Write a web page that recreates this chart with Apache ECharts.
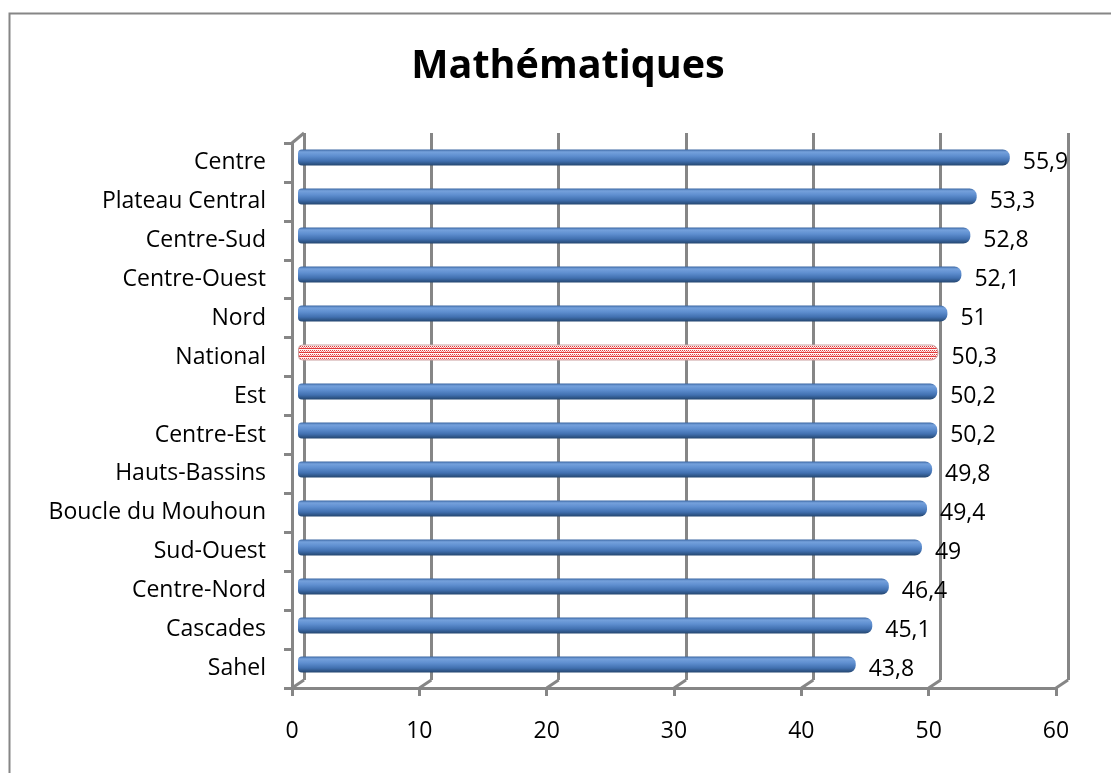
<!DOCTYPE html>
<html>
<head>
<meta charset="utf-8">
<script src="https://cdn.jsdelivr.net/npm/echarts@6/dist/echarts.min.js"></script>
<style>
html,body{margin:0;padding:0;background:#fff;}
#c{width:1111px;height:773px;}
</style>
</head>
<body>
<div id="c"></div>
<script>
const title = 'Mathématiques';
const categories = ['Centre','Plateau Central','Centre-Sud','Centre-Ouest','Nord','National','Est','Centre-Est','Hauts-Bassins','Boucle du Mouhoun','Sud-Ouest','Centre-Nord','Cascades','Sahel'];
const values = [55.9,53.3,52.8,52.1,51,50.3,50.2,50.2,49.8,49.4,49,46.4,45.1,43.8];
const highlight = 'National';
const xMin = 0, xMax = 60, xStep = 10;

const FONT = '"Open Sans", "Liberation Sans", sans-serif';
const GRAY = '#868686';

// hatched red pattern for the highlighted bar
const pc = document.createElement('canvas');
pc.width = 4; pc.height = 4;
const pctx = pc.getContext('2d');
pctx.fillStyle = '#fff4f4'; pctx.fillRect(0,0,4,4);
pctx.fillStyle = '#e23a3a';
pctx.fillRect(0,0,4,1);
pctx.fillRect(0,2,1,1); pctx.fillRect(2,2,1,1);
pctx.fillStyle = '#f08a8a';
pctx.fillRect(1,3,1,1); pctx.fillRect(3,3,1,1);

const blue = {
  type:'linear', x:0, y:0, x2:0, y2:1,
  colorStops:[
    {offset:0, color:'#3a66a2'},
    {offset:0.15, color:'#75a1dc'},
    {offset:0.4, color:'#5f8fd0'},
    {offset:0.72, color:'#4170b0'},
    {offset:1, color:'#24466f'}
  ]
};

const barData = values.map((v,i)=>{
  if (categories[i] === highlight) {
    return {value:v, itemStyle:{color:{image:pc, repeat:'repeat'}, borderColor:'#c9a0a0', borderWidth:1}};
  }
  return {value:v};
});

const chart = echarts.init(document.getElementById('c'), null, {renderer:'canvas'});

const option = {
  animation:false,
  backgroundColor:'#fff',
  grid:[
    {left:304, right:43, top:133, bottom:93},   // back wall
    {left:298, right:49, top:138, bottom:89},   // bars (mid depth)
    {left:292, right:55, top:143, bottom:85}    // front edges
  ],
  xAxis:[
    {gridIndex:0, type:'value', min:xMin, max:xMax, interval:xStep,
     axisLine:{show:false}, axisTick:{show:false}, axisLabel:{show:false},
     splitLine:{show:true, lineStyle:{color:GRAY, width:3}}},
    {gridIndex:1, type:'value', min:xMin, max:xMax, interval:xStep, show:false},
    {gridIndex:2, type:'value', min:xMin, max:xMax, interval:xStep,
     axisLine:{show:true, onZero:false, lineStyle:{color:GRAY, width:3}},
     axisTick:{show:true, length:8, lineStyle:{color:GRAY, width:3}},
     axisLabel:{show:true, margin:32, color:'#000', fontSize:23, fontFamily:FONT},
     splitLine:{show:false}}
  ],
  yAxis:[
    {gridIndex:0, type:'category', data:categories, inverse:true, show:false},
    {gridIndex:1, type:'category', data:categories, inverse:true, show:false},
    {gridIndex:2, type:'category', data:categories, inverse:true,
     axisLine:{show:true, onZero:false, lineStyle:{color:GRAY, width:3}},
     axisTick:{show:true, length:8, lineStyle:{color:GRAY, width:3}},
     axisLabel:{show:true, margin:26, color:'#000', fontSize:23, fontFamily:FONT},
     splitLine:{show:false}}
  ],
  series:[{
    type:'bar', xAxisIndex:1, yAxisIndex:1,
    data:barData, barWidth:16,
    itemStyle:{color:blue, borderRadius:[4,7,7,4]},
    label:{show:true, position:'right', distance:13, offset:[0,5],
      color:'#000', fontSize:23, fontFamily:FONT,
      formatter:p=>String(p.value).replace('.', ',')},
    z:3
  }],
  graphic:[]
};
chart.setOption(option);

// perspective connectors between front edges and back wall, via the axes' scales
const g = [];
g.push({type:'rect', shape:{x:9.5, y:13.5, width:1300, height:900}, style:{fill:null, stroke:GRAY, lineWidth:2}, silent:true});
g.push({type:'text', x:568, y:67, style:{text:title, font:'bold 39.5px '+FONT, fill:'#000', textAlign:'center', textVerticalAlign:'middle'}});
const catBand = chart.getModel().getComponent('yAxis',2).axis.getBandWidth();
const fBottomY = chart.convertToPixel({yAxisIndex:2}, categories[categories.length-1]) + catBand/2;
const fTopY = chart.convertToPixel({yAxisIndex:2}, categories[0]) - catBand/2;
const bBand = chart.getModel().getComponent('yAxis',0).axis.getBandWidth();
const bBottomY = chart.convertToPixel({yAxisIndex:0}, categories[categories.length-1]) + bBand/2;
const bTopY = chart.convertToPixel({yAxisIndex:0}, categories[0]) - bBand/2;
for (let v = xMin; v <= xMax; v += xStep) {
  const xf = chart.convertToPixel({xAxisIndex:2}, v);
  const xb = chart.convertToPixel({xAxisIndex:0}, v);
  g.push({type:'line', shape:{x1:xf, y1:fBottomY, x2:xb, y2:bBottomY}, style:{stroke:GRAY, lineWidth:3}, z:1});
}
const x0f = chart.convertToPixel({xAxisIndex:2}, xMin);
const x0b = chart.convertToPixel({xAxisIndex:0}, xMin);
g.push({type:'line', shape:{x1:x0f, y1:fTopY, x2:x0b, y2:bTopY}, style:{stroke:GRAY, lineWidth:3}, z:1});
chart.setOption({graphic:g});
</script>
</body>
</html>
